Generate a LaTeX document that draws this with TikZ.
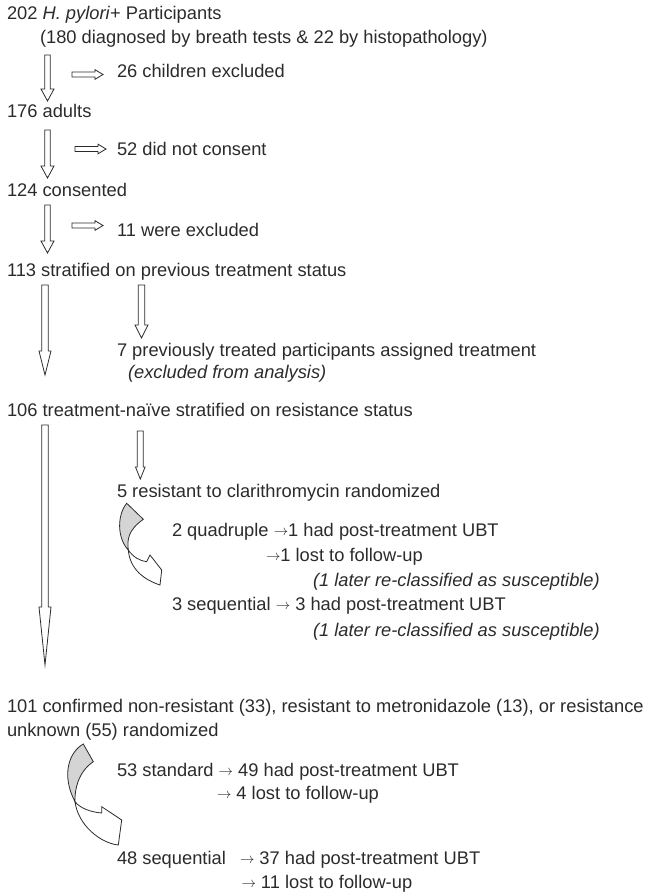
\documentclass[tikz,border=0pt]{standalone}
\usepackage{fontspec}
\setmainfont{Liberation Sans}
\newcommand{\rarr}{\raisebox{1pt}{\fontsize{15}{18}\selectfont$\rightarrow$}}
\definecolor{ink}{HTML}{2B2B2B}
\definecolor{curvegray}{HTML}{D4D4D4}
\tikzset{
  txt/.style={anchor=base west, inner sep=0pt, outer sep=0pt, text=ink,
    font=\fontsize{18.3}{22}\selectfont},
  itxt/.style={txt, font=\fontsize{18.3}{22}\selectfont\itshape},
  blk/.style={draw=ink, fill=white, line width=0.8pt, line join=miter},
  curveback/.style={draw=ink, fill=curvegray, line width=0.8pt},
  curvefront/.style={draw=ink, fill=white, line width=0.8pt},
}
% x, top, tip, shaft half width, head half width, head length
\newcommand{\blockdown}[6]{%
  \draw[blk] ({#1-#4},#2) -- ({#1+#4},#2) -- ({#1+#4},{#3-#6}) -- ({#1+#5},{#3-#6})
    -- (#1,#3) -- ({#1-#5},{#3-#6}) -- ({#1-#4},{#3-#6}) -- cycle;}
% y, left, tip, shaft half width, head half width, head length
\newcommand{\blockright}[6]{%
  \draw[blk] (#2,{#1-#4}) -- (#2,{#1+#4}) -- ({#3-#6},{#1+#4}) -- ({#3-#6},{#1+#5})
    -- (#3,#1) -- ({#3-#6},{#1-#5}) -- ({#3-#6},{#1-#4}) -- cycle;}
\begin{document}
\begin{tikzpicture}[x=1pt,y=-1pt]
\useasboundingbox (0,0) rectangle (649,896);

% texts
\node[txt] (t202) at (7,20) {202 \textit{H. pylori}+ Participants};
\node[txt] (t180) at (40,43.5) {(180 diagnosed by breath tests \& 22 by histopathology)};
\node[txt] (t26) at (117,78) {26 children excluded};
\node[txt] (t176) at (7,117.5) {176 adults};
\node[txt] (t52) at (117,156) {52 did not consent};
\node[txt] (t124) at (7,196.5) {124 consented};
\node[txt] (t11) at (117,236) {11 were excluded};
\node[txt] (t113) at (7,276) {113 stratified on previous treatment status};
\node[txt] (t7) at (117,356) {7 previously treated participants assigned treatment};
\node[itxt] (t7ex) at (128,378) {(excluded from analysis)};
\node[txt] (t106) at (7,416) {106 treatment-naïve stratified on resistance status};
\node[txt] (t5) at (117,497) {5 resistant to clarithromycin randomized};
\node[txt] (tq) at (172,536.5) {2 quadruple \rarr1 had post-treatment UBT};
\node[txt] (tqlost) at (266,561.5) {\rarr1 lost to follow-up};
\node[itxt] (tqre) at (313,586) {(1 later re-classified as susceptible)};
\node[txt] (ts) at (172,610.5) {3 sequential \rarr{} 3 had post-treatment UBT};
\node[itxt] (tsre) at (313,636) {(1 later re-classified as susceptible)};
\node[txt] (t101) at (7,712) {101 confirmed non-resistant (33), resistant to metronidazole (13), or resistance};
\node[txt] (t101b) at (7,736) {unknown (55) randomized};
\node[txt] (tstd) at (117,776) {53 standard \rarr{} 49 had post-treatment UBT};
\node[txt] (tstdlost) at (217,799.5) {\rarr{} 4 lost to follow-up};
\node[txt] (tseq) at (117,864.5) {48 sequential};
\node[txt] (tsequbt) at (240,864.5) {\rarr{} 37 had post-treatment UBT};
\node[txt] (tseqlost) at (241.5,888) {\rarr{} 11 lost to follow-up};

% straight block arrows
\blockdown{47.5}{55}{101}{2.7}{6.5}{12}
\blockright{74.5}{72}{103}{2.5}{4.8}{8}
\blockdown{47.5}{130}{178}{2.7}{6.5}{12}
\blockright{149}{75}{106}{2.5}{4.8}{8}
\blockdown{47.5}{205}{253}{2.7}{6.5}{12}
\blockright{225.5}{72}{103}{2.5}{4.8}{8}
\blockdown{45}{285}{375}{3.3}{6}{24}
\blockdown{141.5}{285}{338}{3.3}{6.5}{13}
\blockdown{45}{425}{665}{3.3}{6}{58}
\blockdown{140.3}{431}{479}{3}{4.8}{12}

% curved arrow (resistant)
\draw[curveback] (126.7,503.3) .. controls (117,515) and (117,538) .. (128.3,550)
  .. controls (127,540) and (128,530) .. (143.3,519.3) -- cycle;
\draw[curvefront] (128.3,550) .. controls (133,557) and (140,561) .. (146.7,561.7)
  -- (150,555) -- (161.7,570) -- (160,585)
  .. controls (145,580) and (130,570) .. (128.3,550) -- cycle;

% curved arrow (non-resistant)
\draw[curveback] (83.3,744) .. controls (69,752) and (61,775) .. (75,801.7)
  .. controls (74.5,790) and (78,772) .. (93.3,761.7) -- cycle;
\draw[curvefront] (75,801.7) .. controls (80,808) and (90,812) .. (101.7,813)
  -- (101.7,806.7) -- (121.7,820) -- (118.3,845)
  .. controls (100,843) and (78,825) .. (75,801.7) -- cycle;
\end{tikzpicture}
\end{document}
